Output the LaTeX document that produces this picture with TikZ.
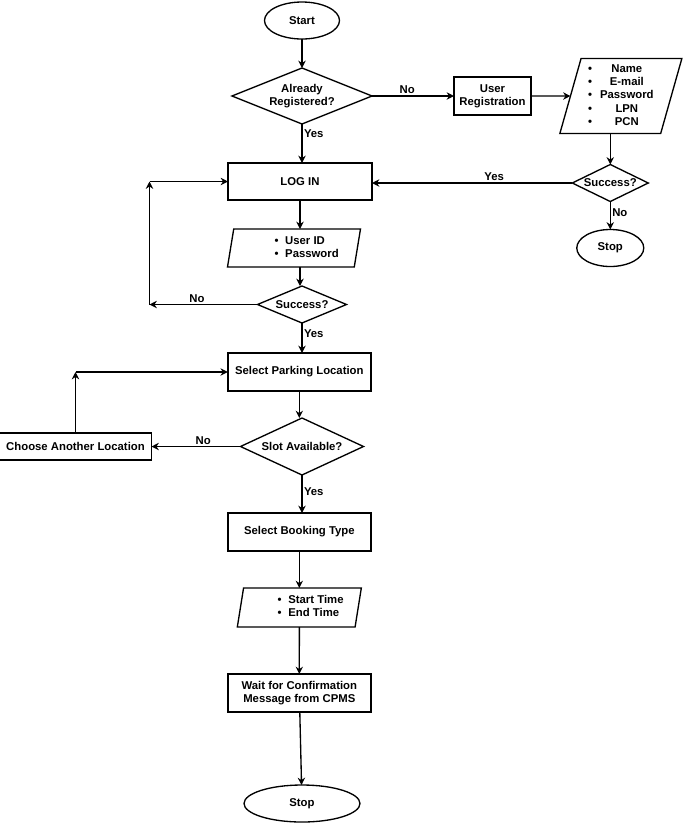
\documentclass[tikz,border=0pt]{standalone}
\usepackage{fontspec}
\setmainfont{Liberation Sans}
\usetikzlibrary{positioning,arrows.meta,shapes.geometric}
\newcommand{\chartfont}{\fontsize{8.5}{10}\selectfont\bfseries}
\tikzset{
  box/.style={draw=black, line width=1pt, align=center, inner sep=1pt, outer sep=0pt, font=\chartfont},
  proc/.style={box, rectangle, minimum width=107.25pt, minimum height=28.5pt},
  term/.style={box, ellipse, minimum height=27.75pt},
  gate/.style={box, diamond, inner sep=0pt},
  data/.style={box, trapezium, trapezium stretches body, trapezium left angle=78, trapezium right angle=102, minimum height=28.5pt},
  flow/.style={-{Stealth[length=5.5pt,width=5.5pt]}, line width=1pt},
  lbl/.style={font=\chartfont, inner sep=1pt}
}

\begin{document}
\begin{tikzpicture}[x=0.75pt, y=-0.75pt]
  \useasboundingbox (0,0) rectangle (685,826);

  % ---- main column ----
  \node[term, minimum width=56.25pt] (start) at (302,20.5) {Start};
  \node[gate, aspect=2.5, minimum width=105pt, minimum height=42pt, below=21.75pt of start] (regq) {Already\\Registered?};
  \node[proc, minimum width=108pt, minimum height=27.75pt, below=29.25pt of regq, xshift=-1.5pt] (login) {LOG IN};
  \node[data, minimum width=99.75pt, below=21.75pt of login, xshift=-4.5pt] (logdata)
    {\begin{tabular}{@{\hspace{19pt}}l@{\hspace{5pt}}l@{}}\textbullet & User ID\\ \textbullet & Password\end{tabular}};
  \node[gate, aspect=2.4, minimum width=66.75pt, minimum height=27.75pt, below=64.5pt of login, xshift=1.5pt] (logok) {Success?};
  \node[proc, below=22.5pt of logok, xshift=-2pt] (parking) {Select Parking Location};
  \node[gate, aspect=2.16, minimum width=92.25pt, minimum height=42.75pt, below=20.25pt of parking, xshift=2pt] (slotq) {Slot Available?};
  \node[proc, below=28.5pt of slotq, xshift=-2pt] (booking) {Select Booking Type};
  \node[data, minimum width=93pt, minimum height=29.25pt, below=27.75pt of booking] (times)
    {\begin{tabular}{@{\hspace{17pt}}l@{\hspace{5pt}}l@{}}\textbullet & Start Time\\ \textbullet & End Time\end{tabular}};
  \node[proc, below=35.25pt of times] (waitmsg) {Wait for Confirmation\\Message from CPMS};
  \node[term, minimum width=87pt, below=54.75pt of waitmsg, xshift=2pt] (stop) {Stop};

  % ---- registration branch ----
  \node[proc, minimum width=57.75pt, right=61.5pt of regq] (userreg) {User\\Registration};
  \node[data, trapezium left angle=73, trapezium right angle=107, minimum width=91.5pt, minimum height=56.25pt, right=29.6pt of userreg] (regdata)
    {\begin{tabular}{@{}l@{\hspace{6pt}}c@{}}\textbullet & Name\\ \textbullet & E-mail\\ \textbullet & Password\\ \textbullet & LPN\\ \textbullet & PCN\end{tabular}};
  \node[gate, aspect=2.05, minimum width=57pt, minimum height=27.75pt, below=23.25pt of regdata.bottom side] (regok) {Success?};
  \node[term, minimum width=50.25pt, below=21pt of regok] (regstop) {Stop};

  % ---- side boxes and corners ----
  \node[proc, minimum width=114pt, minimum height=20.25pt, left=66.75pt of slotq] (other) {Choose Another Location};
  \coordinate[left=81pt of logok.west] (back1);

  % flows
  \draw[flow] (start) -- (start |- regq.north);
  \draw[flow] (regq) -- node[lbl, above, pos=0.43] {No} (userreg);
  \draw[flow] (regq) -- node[lbl, right, pos=0.25] {Yes} (regq |- login.north);
  \draw[flow] (userreg) -- (regdata);
  \draw[flow] (regdata.bottom side) -- (regok);
  \draw[flow] (regok.west) -- node[lbl, above, pos=0.39] {Yes} (regok.west -| login.east);
  \draw[flow] (regok) -- node[lbl, right, pos=0.4] {No} (regstop);
  \draw[flow] (login) -- (login |- logdata.north);
  \draw[flow] (logdata.bottom side -| login) -- (login |- logok.north);
  \draw[flow] (logok.west) -- node[lbl, above, pos=0.56] {No} (back1);
  \draw[flow] (back1) -- (back1 |- login.west);
  \draw[flow] (back1 |- login.west) -- (login.west);
  \draw[flow] (logok) -- node[lbl, right, pos=0.35] {Yes} (logok |- parking.north);
  \draw[flow] (parking) -- (parking |- slotq.north);
  \draw[flow] (slotq.west) -- node[lbl, above, pos=0.42] {No} (other);
  \draw[flow] (other.north) -- (other.north |- parking.west);
  \draw[flow] (other.north |- parking.west) -- (parking.west);
  \draw[flow] (slotq) -- node[lbl, right, pos=0.45] {Yes} (slotq |- booking.north);
  \draw[flow] (booking) -- (booking |- times.north);
  \draw[flow] (times) -- (times |- waitmsg.north);
  \draw[flow] (waitmsg) -- (stop);
\end{tikzpicture}
\end{document}
